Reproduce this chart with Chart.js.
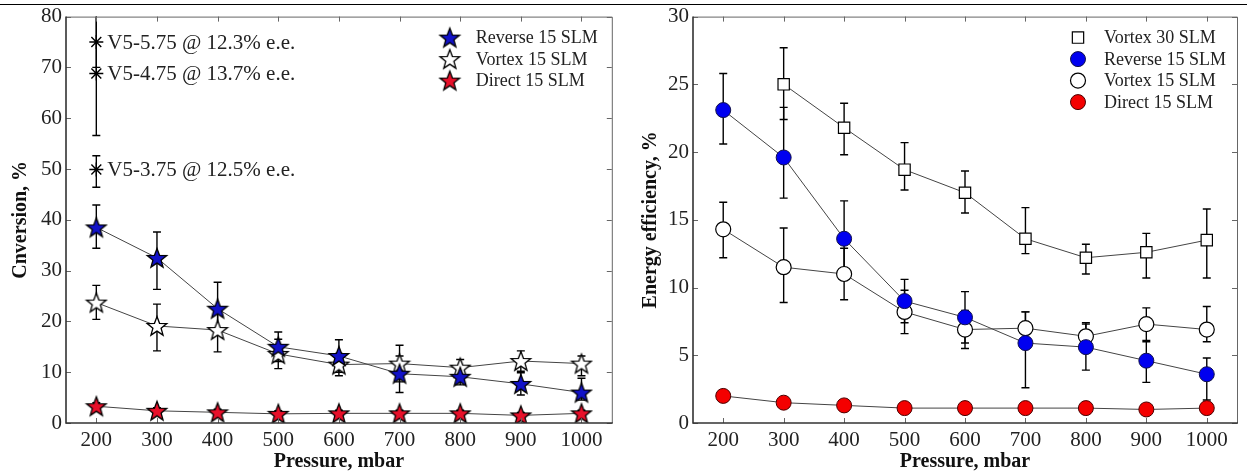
<!DOCTYPE html>
<html>
<head>
<meta charset="utf-8">
<script src="https://cdn.jsdelivr.net/npm/chart.js@4.4.1/dist/chart.umd.min.js"></script>
<style>
  body { margin: 0; background: #fff; width: 1247px; height: 475px; overflow: hidden; position: relative; }
  #rule { position: absolute; left: 0; top: 4px; width: 1247px; height: 1px; background: #000; }
  #left { position: absolute; left: 0; top: 0; }
  #right { position: absolute; left: 623px; top: 0; }
</style>
</head>
<body>
<div id="rule"></div>
<canvas id="left" width="623" height="475"></canvas>
<canvas id="right" width="624" height="475"></canvas>
<script>
// x values shared by both panels
const pressure = [200, 300, 400, 500, 600, 700, 800, 900, 1000]

// left panel: conversion, %
const revConv = [38.5, 32.5, 22.5, 15.0, 13.2, 9.7, 9.1, 7.7, 6.0]
const revConvLo = [34.4, 26.3, 17.3, 12.1, 10.0, 6.0, 7.5, 5.5, 4.5]
const revConvHi = [42.9, 37.6, 27.7, 17.9, 16.4, 13.2, 10.7, 9.9, 8.8]
const vortConv = [23.7, 19.1, 18.3, 13.6, 11.5, 11.7, 10.9, 12.2, 11.7]
const vortConvLo = [20.4, 14.2, 14.0, 10.7, 9.3, 8.1, 9.3, 10.2, 9.3]
const vortConvHi = [27.1, 23.4, 22.6, 16.5, 13.7, 15.3, 12.5, 14.2, 13.2]
const dirConv = [3.3, 2.4, 2.1, 1.8, 1.9, 1.9, 1.9, 1.5, 1.9]
const dirConvLo = [2.6, 1.8, 1.5, 1.2, 1.3, 1.3, 1.3, 0.9, 1.3]
const dirConvHi = [4.0, 3.0, 2.7, 2.4, 2.5, 2.5, 2.5, 2.1, 2.5]

// V5 runs, all at 200 mbar
const v5Pressure = [200, 200, 200]
const v5Conv = [75.0, 68.8, 49.9]
const v5Lo = [70.0, 56.6, 46.4]
const v5Hi = [81.0, 81.0, 52.6]
const v5Notes = ['V5-5.75 @ 12.3% e.e.', 'V5-4.75 @ 13.7% e.e.', 'V5-3.75 @ 12.5% e.e.']

// right panel: energy efficiency, %
const v30EE = [null, 25.0, 21.8, 18.7, 17.0, 13.6, 12.2, 12.6, 13.5]
const v30EELo = [null, 22.4, 19.8, 17.2, 15.5, 12.5, 11.0, 10.7, 10.7]
const v30EEHi = [null, 27.7, 23.6, 20.7, 18.6, 15.9, 13.2, 14.0, 15.8]
const revEE = [23.1, 19.6, 13.6, 9.0, 7.8, 5.9, 5.6, 4.6, 3.6]
const revEELo = [20.6, 16.6, 10.8, 7.4, 5.9, 2.6, 3.9, 3.0, 1.7]
const revEEHi = [25.8, 23.3, 16.4, 10.6, 9.7, 8.2, 7.3, 6.0, 4.8]
const vortEE = [14.3, 11.5, 11.0, 8.2, 6.9, 7.0, 6.4, 7.3, 6.9]
const vortEELo = [12.2, 8.9, 9.1, 6.6, 5.5, 5.8, 5.4, 6.1, 6.0]
const vortEEHi = [16.3, 14.4, 12.9, 9.8, 8.3, 8.2, 7.4, 8.5, 8.6]
const dirEE = [2.0, 1.5, 1.3, 1.1, 1.1, 1.1, 1.1, 1.0, 1.1]

const FONT = "'Liberation Serif', 'Times New Roman', serif"
const LINE = '#444'

function starImage(fill) {
  const c = document.createElement('canvas')
  c.width = 24
  c.height = 24
  const g = c.getContext('2d')
  g.beginPath()
  for (let i = 0; i < 10; i++) {
    const r = i % 2 ? 4.3 : 10.3
    const a = -Math.PI / 2 + i * Math.PI / 5
    g.lineTo(12 + r * Math.cos(a), 12.8 + r * Math.sin(a))
  }
  g.closePath()
  g.fillStyle = fill
  g.fill()
  g.lineWidth = 1.3
  g.strokeStyle = '#000'
  g.stroke()
  return c
}

const pts = (xs, ys) => xs.map((x, i) => ({ x, y: ys[i] })).filter(p => p.y != null)

// error bars, drawn under the markers
const errorBars = {
  id: 'errorBars',
  beforeDatasetsDraw(chart) {
    const { ctx, chartArea: a, scales: { x, y } } = chart
    ctx.save()
    ctx.beginPath()
    ctx.rect(a.left, a.top, a.right - a.left, a.bottom - a.top)
    ctx.clip()
    ctx.strokeStyle = '#000'
    ctx.lineWidth = 1.4
    chart.data.datasets.forEach(ds => {
      if (!ds.errLo) return
      ds.errLo.forEach((lo, i) => {
        if (lo == null) return
        const px = x.getPixelForValue(ds.errX[i])
        const y1 = y.getPixelForValue(lo)
        const y2 = y.getPixelForValue(ds.errHi[i])
        ctx.beginPath()
        ctx.moveTo(px, y1); ctx.lineTo(px, y2)
        ctx.moveTo(px - 4, y1); ctx.lineTo(px + 4, y1)
        ctx.moveTo(px - 4, y2); ctx.lineTo(px + 4, y2)
        ctx.stroke()
      })
    })
    ctx.restore()
  }
}

// MATLAB style box with inward ticks
const frame = {
  id: 'frame',
  afterDatasetsDraw(chart) {
    const { ctx, chartArea: a, scales: { x, y } } = chart
    ctx.save()
    ctx.strokeStyle = '#666'
    ctx.lineWidth = 1
    ctx.beginPath()
    ctx.moveTo(a.left, a.top + 0.5); ctx.lineTo(a.right + 0.5, a.top + 0.5); ctx.lineTo(a.right + 0.5, a.bottom)
    x.ticks.forEach(t => {
      const px = Math.round(x.getPixelForValue(t.value)) + 0.5
      ctx.moveTo(px, a.bottom); ctx.lineTo(px, a.bottom - 5)
      ctx.moveTo(px, a.top); ctx.lineTo(px, a.top + 5)
    })
    y.ticks.forEach(t => {
      const py = Math.round(y.getPixelForValue(t.value)) + 0.5
      ctx.moveTo(a.left, py); ctx.lineTo(a.left + 5, py)
      ctx.moveTo(a.right, py); ctx.lineTo(a.right - 5, py)
    })
    ctx.stroke()
    ctx.strokeStyle = '#333'
    ctx.lineWidth = 1.6
    ctx.beginPath()
    ctx.moveTo(a.left, a.top); ctx.lineTo(a.left, a.bottom); ctx.lineTo(a.right + 1, a.bottom)
    ctx.stroke()
    ctx.restore()
  }
}

// text next to the V5 asterisks
const notes = {
  id: 'notes',
  afterDatasetsDraw(chart) {
    const { ctx } = chart
    chart.data.datasets.forEach((ds, di) => {
      if (!ds.notes) return
      const meta = chart.getDatasetMeta(di)
      ctx.save()
      ctx.font = '21px ' + FONT
      ctx.fillStyle = '#222'
      ctx.textBaseline = 'middle'
      meta.data.forEach((el, i) => ctx.fillText(ds.notes[i], el.x + 11, el.y + 1))
      ctx.restore()
    })
  }
}

// legend in the upper right corner of the plot box
const cornerLegend = {
  id: 'cornerLegend',
  afterDraw(chart, args, opts) {
    const { ctx, chartArea: a } = chart
    let yy = a.top + opts.dy
    const mx = a.right + opts.dx
    ctx.save()
    chart.data.datasets.forEach(ds => {
      if (ds.notes) return
      ctx.fillStyle = ds.pointBackgroundColor
      ctx.strokeStyle = ds.pointBorderColor
      ctx.lineWidth = ds.pointBorderWidth
      Chart.helpers.drawPoint(ctx, { pointStyle: ds.pointStyle, radius: ds.pointRadius, borderWidth: ds.pointBorderWidth, rotation: 0 }, mx, yy)
      ctx.fillStyle = '#222'
      ctx.font = '18px ' + FONT
      ctx.textBaseline = 'middle'
      ctx.fillText(ds.label, mx + 26, yy + 1)
      yy += opts.step
    })
    ctx.restore()
  }
}

function series(label, xs, ys, style, lo, hi) {
  return Object.assign({
    label,
    data: pts(xs, ys),
    showLine: true,
    borderColor: LINE,
    borderWidth: 1,
    tension: 0,
    pointBorderColor: '#000',
    pointBorderWidth: 1.2,
    errX: xs,
    errLo: lo,
    errHi: hi,
  }, style)
}

function axes(yMax, yStep, yTitle, yWidth, titlePad) {
  return {
    x: {
      type: 'linear', min: 150, max: 1050,
      grid: { display: false, drawTicks: false }, border: { display: false },
      afterBuildTicks: s => { s.ticks = pressure.map(v => ({ value: v })) },
      afterFit: s => { s.height = 52 },
      ticks: { color: '#222', padding: 5, callback: v => String(v), font: { family: FONT, size: 21 } },
      title: { display: true, text: 'Pressure, mbar', color: '#111', padding: { top: 0, bottom: 1 }, font: { family: FONT, size: 20, weight: 'bold' } },
    },
    y: {
      min: 0, max: yMax,
      grid: { display: false, drawTicks: false }, border: { display: false },
      afterFit: s => { s.width = yWidth },
      ticks: { stepSize: yStep, color: '#222', padding: 4, font: { family: FONT, size: 21 } },
      title: { display: true, text: yTitle, color: '#111', padding: { top: titlePad, bottom: 0 }, font: { family: FONT, size: 20, weight: 'bold' } },
    },
  }
}

const common = {
  responsive: false,
  animation: false,
  plugins: { legend: { display: false }, tooltip: { enabled: false } },
}

new Chart(document.getElementById('left'), {
  type: 'scatter',
  data: {
    datasets: [
      series('Reverse 15 SLM', pressure, revConv, { pointStyle: starImage('#1212c8'), pointRadius: 10, pointBackgroundColor: '#1212c8' }, revConvLo, revConvHi),
      series('Vortex 15 SLM', pressure, vortConv, { pointStyle: starImage('#fff'), pointRadius: 10, pointBackgroundColor: '#fff' }, vortConvLo, vortConvHi),
      series('Direct 15 SLM', pressure, dirConv, { pointStyle: starImage('#e8102a'), pointRadius: 10, pointBackgroundColor: '#e8102a' }, dirConvLo, dirConvHi),
      {
        label: 'V5',
        data: pts(v5Pressure, v5Conv),
        showLine: false,
        pointStyle: 'star',
        pointRadius: 7,
        pointBorderColor: '#000',
        pointBorderWidth: 1.4,
        notes: v5Notes,
        errX: v5Pressure,
        errLo: v5Lo,
        errHi: v5Hi,
      },
    ],
  },
  options: Object.assign({}, common, {
    layout: { padding: { left: 0, right: 11, top: 16, bottom: 0 } },
    scales: axes(80, 10, 'Cnversion, %', 66, 9),
    plugins: Object.assign({}, common.plugins, { cornerLegend: { dx: -162, dy: 21, step: 21.5 } }),
  }),
  plugins: [errorBars, frame, notes, cornerLegend],
})

new Chart(document.getElementById('right'), {
  type: 'scatter',
  data: {
    datasets: [
      series('Vortex 30 SLM', pressure, v30EE, { pointStyle: 'rect', pointRadius: 8, pointBackgroundColor: '#fff' }, v30EELo, v30EEHi),
      series('Reverse 15 SLM', pressure, revEE, { pointStyle: 'circle', pointRadius: 7.5, pointBackgroundColor: '#0000f0', pointBorderColor: '#10104a', pointBorderWidth: 1 }, revEELo, revEEHi),
      series('Vortex 15 SLM', pressure, vortEE, { pointStyle: 'circle', pointRadius: 7.5, pointBackgroundColor: '#fff' }, vortEELo, vortEEHi),
      series('Direct 15 SLM', pressure, dirEE, { pointStyle: 'circle', pointRadius: 7.5, pointBackgroundColor: '#f40000', pointBorderColor: '#4a0000', pointBorderWidth: 1 }, null, null),
    ],
  },
  options: Object.assign({}, common, {
    layout: { padding: { left: 0, right: 10, top: 16, bottom: 0 } },
    scales: axes(30, 5, 'Energy efficiency, %', 70, 16),
    plugins: Object.assign({}, common.plugins, { cornerLegend: { dx: -159, dy: 21, step: 21.5 } }),
  }),
  plugins: [errorBars, frame, cornerLegend],
})
</script>
</body>
</html>
